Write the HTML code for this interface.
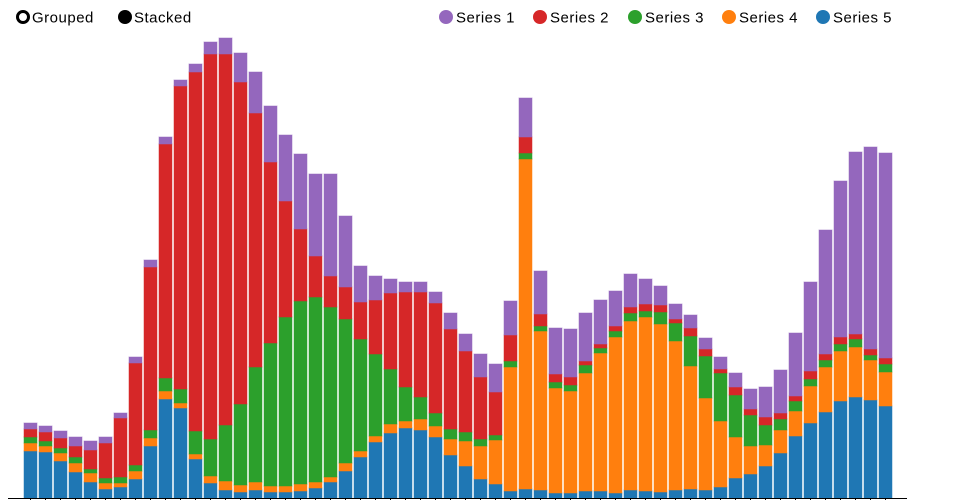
<!DOCTYPE html>
<html><head><meta charset="utf-8">
<style>
html,body{margin:0;padding:0;background:#fff;width:960px;height:500px;overflow:hidden}
svg{display:block;font-family:"Liberation Sans",sans-serif}
</style></head><body>
<svg id="c" width="960" height="500" xmlns="http://www.w3.org/2000/svg">
<g font-size="15" fill="#000" letter-spacing="0.5">
<circle cx="23" cy="17" r="5.5" fill="#fff" stroke="#000" stroke-width="3"/>
<text x="32" y="22.5">Grouped</text>
<circle cx="125" cy="17" r="7" fill="#000"/>
<text x="134" y="22.5">Stacked</text>
<circle cx="446" cy="17" r="7" fill="#9467bd"/><text x="456" y="22.5">Series 1</text>
<circle cx="540" cy="17" r="7" fill="#d62728"/><text x="550" y="22.5">Series 2</text>
<circle cx="635" cy="17" r="7" fill="#2ca02c"/><text x="645" y="22.5">Series 3</text>
<circle cx="729" cy="17" r="7" fill="#ff7f0e"/><text x="739" y="22.5">Series 4</text>
<circle cx="823" cy="17" r="7" fill="#1f77b4"/><text x="833" y="22.5">Series 5</text>
</g>
<g id="bars"></g>
<line x1="8" y1="498.5" x2="907" y2="498.5" stroke="#000" stroke-width="1"/>
<g id="ticks"></g>
</svg>
<script>
var d=[
[451,443,437,429,423],[452,446,441,432,426],[461,453,448,438,431],[472,463,457,446,437],[482,473,469,450,441],
[489,483,478,443,437],[487,483,477,418,413],[479,471,465,363,357],[446,438,430,267,260],[399,391,378,144,137],
[408,403,389,86,80],[459,454,431,72,64],[483,476,439,54,42],[490,481,425,54,38],[492,485,404,82,53],
[490,482,367,113,72],[492,486,343,162,106],[492,486,317,201,135],[491,484,301,229,154],[488,482,297,256,174],
[482,477,307,276,174],[471,463,319,287,216],[457,451,339,302,266],[442,436,354,300,276],[433,424,369,293,279],
[428,421,387,292,282],[430,419,397,292,282],[437,426,413,303,292],[455,439,429,329,313],[466,441,432,351,334],
[479,446,439,377,354],[484,440,435,392,364],[491,367,361,335,301],[489,159,153,137,98],[490,331,326,314,271],
[493,388,382,374,328],[493,391,385,377,329],[491,373,365,361,313],[491,353,348,344,300],[493,337,331,326,291],
[490,321,313,307,274],[491,317,311,304,279],[492,324,312,305,286],[490,341,323,319,304],[489,366,336,328,315],
[490,398,356,349,338],[487,421,373,369,357],[478,437,395,387,373],[474,446,415,409,389],[466,445,425,417,387],
[453,430,419,413,370],[436,411,401,396,333],[423,386,379,371,282],[412,367,360,354,230],[401,351,344,337,181],
[397,347,339,334,152],[400,360,355,349,147],[406,372,364,358,153]];
var cols=["#1f77b4","#ff7f0e","#2ca02c","#d62728","#9467bd"];
var s="",t="",B=498;
for(var i=0;i<d.length;i++){
 var x=24+15*i,prev=B;
 for(var k=0;k<5;k++){
  var y=d[i][k],h=prev-y;
  if(h>0)s+='<rect x="'+x+'" y="'+y+'" width="13" height="'+h+'" fill="'+cols[k]+'" stroke="'+cols[k]+'" stroke-opacity="0.5"/>';
  prev=y;
 }
 t+='<line x1="'+(x+6.5)+'" y1="498.5" x2="'+(x+6.5)+'" y2="501" stroke="#000"/>';
}
document.getElementById("bars").innerHTML=s;
document.getElementById("ticks").innerHTML=t;
</script>
</body></html>
